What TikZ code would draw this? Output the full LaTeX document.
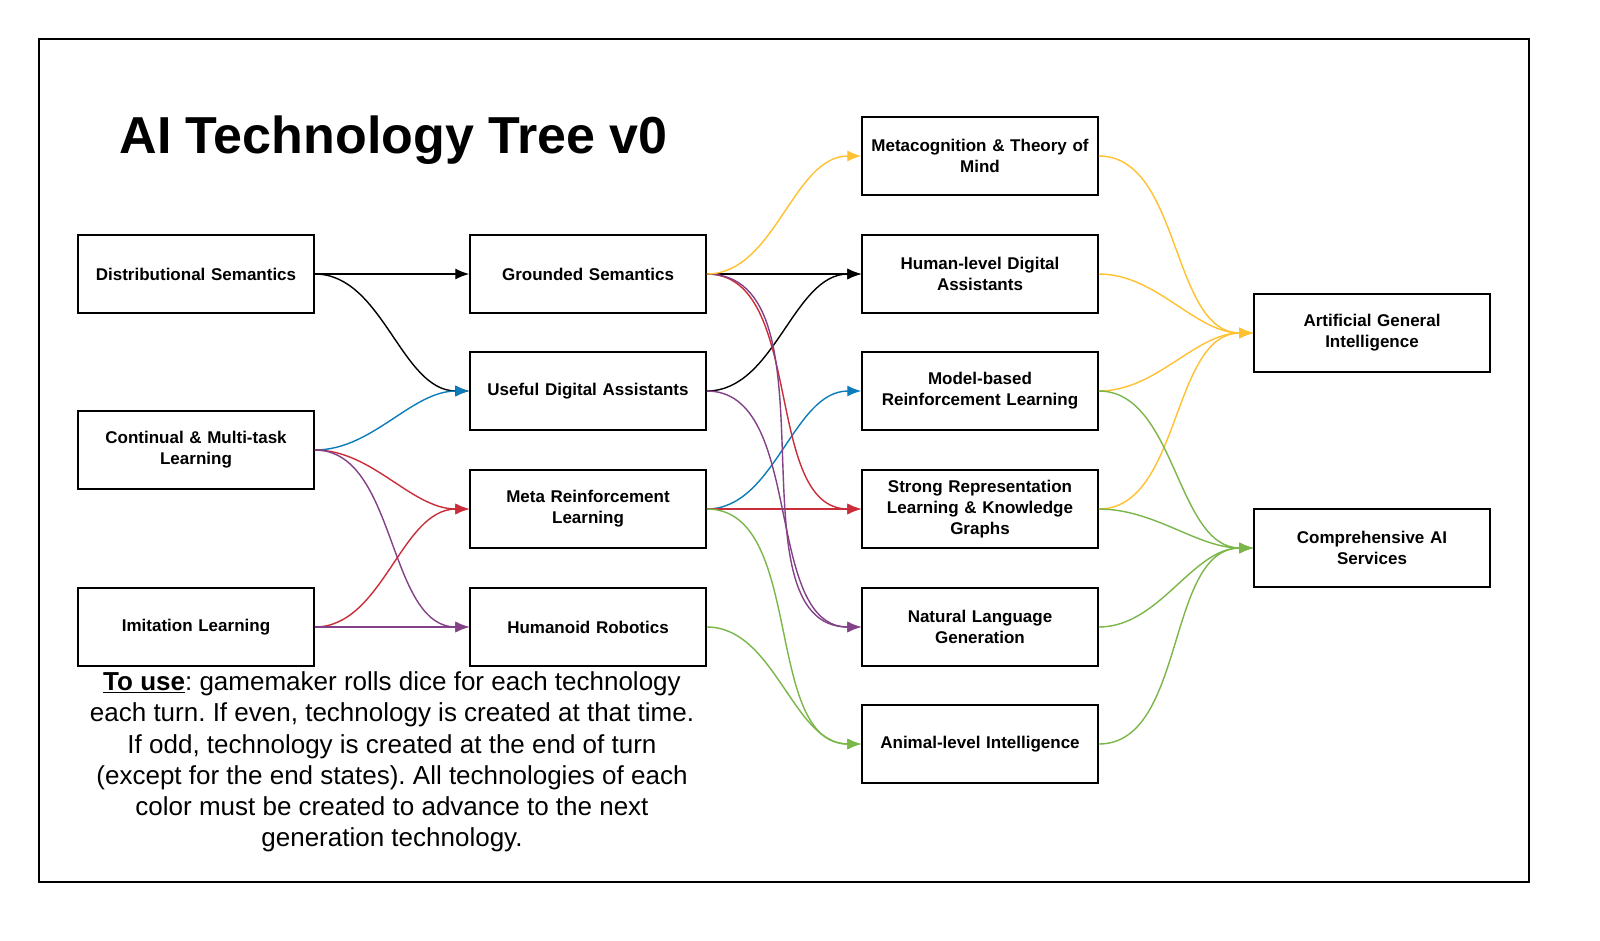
\documentclass[tikz,border=0pt]{standalone}
\usepackage{fontspec}
\setmainfont{Liberation Sans}
\usetikzlibrary{arrows.meta}
\definecolor{cy}{HTML}{FFC130}
\definecolor{cg}{HTML}{7AB648}
\definecolor{cb}{HTML}{0C7CBA}
\definecolor{cr}{HTML}{C92D39}
\definecolor{cp}{HTML}{834187}
\frenchspacing
\begin{document}
\begin{tikzpicture}[x=1pt,y=-1pt,
  box/.style={draw,line width=1.5pt,minimum width=236pt,minimum height=78pt,align=center,text width=226pt,font=\fontsize{17}{21}\selectfont\bfseries,inner sep=2pt},
  e/.style={line width=1.4pt,-{Latex[length=14pt,width=11pt]},out=0,in=180,looseness=0.9}]
\useasboundingbox (0,0) rectangle (1600,940);
\fill[white] (0,0) rectangle (1600,940);
\draw[line width=1.5pt] (39,39) rectangle (1529,882);
\node[font=\fontsize{52}{60}\selectfont\bfseries,anchor=west] (title) at (116,140) {AI Technology Tree v0};
\node[box] (dist) at (196,274) {Distributional Semantics};
\node[box] (cont) at (196,450) {Continual \& Multi-task\\Learning};
\node[box] (imit) at (196,627) {Imitation Learning};
\node[box] (grnd) at (588,274) {Grounded Semantics};
\node[box] (usef) at (588,391) {Useful Digital Assistants};
\node[box] (meta) at (588,509) {Meta Reinforcement\\Learning};
\node[box] (huma) at (588,627) {Humanoid Robotics};
\node[box] (mcog) at (980,156) {Metacognition \& Theory of\\Mind};
\node[box] (hlda) at (980,274) {Human-level Digital\\Assistants};
\node[box] (mbrl) at (980,391) {Model-based\\Reinforcement Learning};
\node[box] (strg) at (980,509) {Strong Representation\\Learning \& Knowledge\\Graphs};
\node[box] (nlg) at (980,627) {Natural Language\\Generation};
\node[box] (anim) at (980,744) {Animal-level Intelligence};
\node[box] (agi) at (1372,333) {Artificial General\\Intelligence};
\node[box] (cais) at (1372,548) {Comprehensive AI\\Services};
\node[align=center,font=\fontsize{26}{31.2}\selectfont] (use) at (392,762) {\textbf{\underline{To use}}: gamemaker rolls dice for each technology\\each turn. If even, technology is created at that time.\\If odd, technology is created at the end of turn\\(except for the end states). All technologies of each\\color must be created to advance to the next\\generation technology.};
% black
\draw[e] (dist.east) to (grnd.west);
\draw[e] (dist.east) to (usef.west);
\draw[e] (grnd.east) to (hlda.west);
\draw[e] (usef.east) to (hlda.west);
% blue
\draw[e,cb] (cont.east) to (usef.west);
\draw[e,cb] (meta.east) to (mbrl.west);
% red
\draw[e,cr] (cont.east) to (meta.west);
\draw[e,cr] (imit.east) to (meta.west);
\draw[e,cr] (grnd.east) to (strg.west);
\draw[e,cr] (meta.east) to (strg.west);
% purple
\draw[e,cp] (cont.east) to (huma.west);
\draw[e,cp] (imit.east) to (huma.west);
\draw[e,cp] (grnd.east) to (nlg.west);
\draw[e,cp] (usef.east) to (nlg.west);
% yellow
\draw[e,cy] (grnd.east) to (mcog.west);
\draw[e,cy] (mcog.east) to (agi.west);
\draw[e,cy] (hlda.east) to (agi.west);
\draw[e,cy] (mbrl.east) to (agi.west);
\draw[e,cy] (strg.east) to (agi.west);
% green
\draw[e,cg] (meta.east) to (anim.west);
\draw[e,cg] (huma.east) to (anim.west);
\draw[e,cg] (mbrl.east) to (cais.west);
\draw[e,cg] (strg.east) to (cais.west);
\draw[e,cg] (nlg.east) to (cais.west);
\draw[e,cg] (anim.east) to (cais.west);
\end{tikzpicture}
\end{document}
